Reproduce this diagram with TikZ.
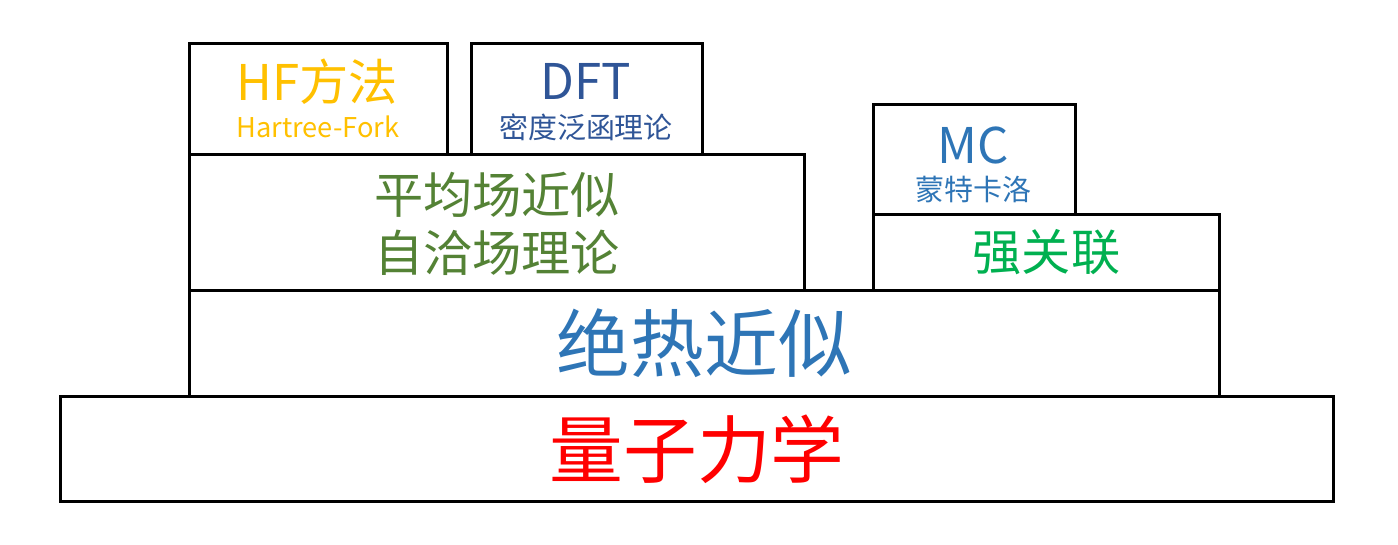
\documentclass[tikz,border=0pt]{standalone}
\usepackage{fontspec}
\setmainfont{Noto Sans CJK SC}

\definecolor{hfyellow}{HTML}{FFC000}
\definecolor{dftblue}{HTML}{2F5597}
\definecolor{mcblue}{HTML}{2E75B6}
\definecolor{sfgreen}{HTML}{548235}
\definecolor{scgreen}{HTML}{00B050}
\definecolor{qmred}{HTML}{FF0000}

\tikzset{
  layer/.style={draw=black, line width=1.7pt, inner sep=0pt, anchor=north west},
  huge/.style={font=\fontsize{42}{46}\selectfont},
  big/.style={font=\fontsize{28}{32}\selectfont},
  small/.style={font=\fontsize{16.5}{18}\selectfont},
}

\begin{document}
\begin{tikzpicture}[x=0.02cm, y=-0.02cm]
  \useasboundingbox (1,1) rectangle (1399,545);

  \node[layer, minimum width=1273*0.02cm, minimum height=105*0.02cm](qm)  at (60,396)  {};
  \node[layer, minimum width=1030*0.02cm, minimum height=106*0.02cm](adia) at (189,290) {};
  \node[layer, minimum width=615*0.02cm,  minimum height=136*0.02cm](scf)  at (189,154) {};
  \node[layer, minimum width=346*0.02cm,  minimum height=76*0.02cm](corr)  at (873,214) {};
  \node[layer, minimum width=202*0.02cm,  minimum height=110*0.02cm](mc)   at (873,104) {};
  \node[layer, minimum width=258*0.02cm,  minimum height=111*0.02cm](hf)   at (189,43)  {};
  \node[layer, minimum width=231*0.02cm,  minimum height=111*0.02cm](dft)  at (471,43)  {};

  \node[huge, qmred]  (qmtext)   at (qm)   {量子力学};
  \node[huge, mcblue] (adiatext) at (adia) {绝热近似};
  \node[big, sfgreen] (scftop)   at (498,196) {平均场近似};
  \node[big, sfgreen] (scfbot)   at (498,254) {自洽场理论};
  \node[big, scgreen] (corrtext) at (corr) {强关联};

  \node[big, mcblue]    (mctop)  at (974,146) {MC};
  \node[small, mcblue]  (mcbot)  at (974,190) {蒙特卡洛};
  \node[big, hfyellow]  (hftop)  at (318,83)  {HF方法};
  \node[small, hfyellow, font=\fontsize{15.5}{17}\selectfont](hfbot) at (319,128) {Hartree-Fork};
  \node[big, dftblue]   (dfttop) at (587,82)  {DFT};
  \node[small, dftblue] (dftbot) at (587,128) {密度泛函理论};
\end{tikzpicture}
\end{document}
